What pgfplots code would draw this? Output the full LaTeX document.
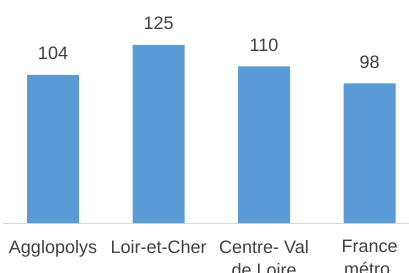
\documentclass[border=0pt]{standalone}
\usepackage{fontspec}
\setmainfont{Liberation Sans}
\usepackage{pgfplots}
\pgfplotsset{compat=1.18}
\definecolor{barblue}{HTML}{5B9BD5}
\definecolor{txt}{HTML}{404040}
\definecolor{axisgray}{HTML}{D9D9D9}
\begin{document}
\begin{tikzpicture}
\useasboundingbox (-3bp,-50bp) rectangle (406bp,223bp);
\begin{axis}[
  at={(0,0)}, anchor=south west,
  scale only axis, width=406bp, height=223bp,
  xmin=-0.474, xmax=3.374, ymin=0, ymax=156.5,
  axis x line*=bottom, axis y line=none,
  x axis line style={draw=axisgray, line width=1bp, -},
  xtick={0,1,2,3},
  xticklabels={Agglopolys, Loir-et-Cher, {Centre- Val\\de Loire}, {France\\métro.}},
  major tick length=0pt,
  xtick style={draw=none},
  ytick=\empty,
  /pgf/number format/assume math mode=true,
  xticklabel style={align=center, inner sep=0pt, yshift=-17bp, text=txt,
    font=\fontsize{18bp}{23bp}\selectfont},
  ybar, bar width=52bp,
  nodes near coords={\pgfmathprintnumber[assume math mode=true]{\pgfplotspointmeta}},
  nodes near coords style={anchor=base, inner sep=0pt, yshift=15bp, text=txt,
    font=\fontsize{18bp}{21bp}\selectfont},
  clip=false,
]
\addplot[fill=barblue, draw=none] coordinates {(0,104) (1,125) (2,110) (3,98)};
\end{axis}
\end{tikzpicture}
\end{document}
